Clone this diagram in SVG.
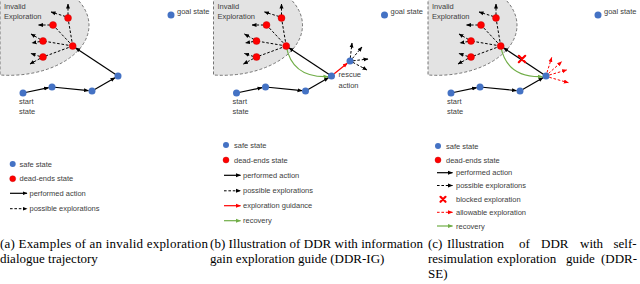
<svg xmlns="http://www.w3.org/2000/svg" width="640" height="284" viewBox="0 0 640 284">
<style>
.safe{fill:#4472C4}
.dead{fill:#FF0000;stroke:#C00000;stroke-width:0.4}
.lbl{font-family:"Liberation Sans",Arial,sans-serif;font-size:7.5px;fill:#404040}
.cap{font-family:"Liberation Serif","Times New Roman",serif;font-size:13px;fill:#000}
.act{stroke:#000;stroke-width:1.2;fill:none}
.exp{stroke:#000;stroke-width:1;stroke-dasharray:2.6 1.8;fill:none}
.rexp{stroke:#FF0000;stroke-width:1;stroke-dasharray:2.6 1.8;fill:none}
.guide{stroke:#FF0000;stroke-width:1.2;fill:none}
.rec{stroke:#70AD47;stroke-width:1.2;fill:none}
.zone{fill:#E3E3E3;stroke:#555;stroke-width:0.8;stroke-dasharray:3 2}
.blk{stroke:#FF0000;stroke-width:2.2;stroke-linecap:round}
</style>
<defs>
<marker id="ak" viewBox="0 0 10 10" refX="9" refY="5" markerWidth="5" markerHeight="5" markerUnits="userSpaceOnUse" orient="auto"><path d="M0,1 L10,5 L0,9 z" fill="#000"/></marker>
<marker id="ar" viewBox="0 0 10 10" refX="9" refY="5" markerWidth="5" markerHeight="5" markerUnits="userSpaceOnUse" orient="auto"><path d="M0,1 L10,5 L0,9 z" fill="#FF0000"/></marker>
<marker id="ag" viewBox="0 0 10 10" refX="9" refY="5" markerWidth="5" markerHeight="5" markerUnits="userSpaceOnUse" orient="auto"><path d="M0,1 L10,5 L0,9 z" fill="#70AD47"/></marker>
</defs>

<!-- ============ Panel A ============ -->
<g id="panel-a">
  <path class="zone" d="M0,-2 L76,-2 A80,50 0 0 1 0,75 Z"/>
  <text class="lbl" x="4" y="8.5" font-size="8">Invalid</text>
  <text class="lbl" x="4" y="18.5" font-size="8">Exploration</text>
  <g id="a-connectors">
    <line class="act" x1="23" y1="93" x2="48.6" y2="87.7" marker-end="url(#ak)"/>
    <line class="act" x1="52" y1="87" x2="88.5" y2="90.6" marker-end="url(#ak)"/>
    <line class="act" x1="92" y1="91" x2="115" y2="77.8" marker-end="url(#ak)"/>
    <line class="act" x1="118" y1="76" x2="75.6" y2="47.9" marker-end="url(#ak)"/>
    <line class="exp" x1="72.7" y1="46" x2="68" y2="18"/>
    <line class="exp" x1="72.7" y1="46" x2="53" y2="25"/>
    <line class="exp" x1="72.7" y1="46" x2="43" y2="41"/>
    <line class="exp" x1="72.7" y1="46" x2="43" y2="57"/>
    <line class="exp" x1="68" y1="15" x2="68" y2="4" marker-end="url(#ak)"/>
    <line class="exp" x1="65.5" y1="16.5" x2="51" y2="12" marker-end="url(#ak)"/>
    <line class="exp" x1="50" y1="25" x2="38.5" y2="25" marker-end="url(#ak)"/>
    <line class="exp" x1="40.5" y1="39.5" x2="31" y2="34" marker-end="url(#ak)"/>
    <line class="exp" x1="40" y1="41.5" x2="32" y2="43" marker-end="url(#ak)"/>
    <line class="exp" x1="40" y1="56.5" x2="31" y2="53.5" marker-end="url(#ak)"/>
    <line class="exp" x1="40" y1="58.5" x2="30" y2="64" marker-end="url(#ak)"/>
  </g>
  <g id="a-dead-hub"><circle class="dead" cx="72.7" cy="46" r="3.5"/></g>
  <g id="a-dead-1"><circle class="dead" cx="68" cy="18" r="3.5"/></g>
  <g id="a-dead-2"><circle class="dead" cx="53" cy="25" r="3.5"/></g>
  <g id="a-dead-3"><circle class="dead" cx="43" cy="41" r="3.5"/></g>
  <g id="a-dead-4"><circle class="dead" cx="43" cy="57" r="3.5"/></g>
  <g id="a-start"><circle class="safe" cx="23" cy="93" r="3.5"/>
    <text class="lbl" x="19" y="104">start</text><text class="lbl" x="19" y="114">state</text></g>
  <g id="a-s2"><circle class="safe" cx="52" cy="87" r="3.5"/></g>
  <g id="a-s3"><circle class="safe" cx="92" cy="91" r="3.5"/></g>
  <g id="a-s4"><circle class="safe" cx="118" cy="76" r="3.5"/></g>
  <g id="a-goal"><circle class="safe" cx="171" cy="15" r="3.5"/><text class="lbl" x="177" y="14">goal state</text></g>

  <g id="a-legend">
    <circle class="safe" cx="12.7" cy="164" r="3"/><text class="lbl" x="19.5" y="166.6">safe state</text>
    <circle class="dead" cx="12.7" cy="178.7" r="3"/><text class="lbl" x="19.5" y="181.3">dead-ends state</text>
    <line class="act" x1="10" y1="193.3" x2="27" y2="193.3" marker-end="url(#ak)"/><text class="lbl" x="29.5" y="195.9">performed action</text>
    <line class="exp" x1="10" y1="208.7" x2="27" y2="208.7" marker-end="url(#ak)"/><text class="lbl" x="29.5" y="211.3">possible explorations</text>
  </g>
</g>

<!-- ============ Panel B ============ -->
<g id="panel-b" transform="translate(213.5,0)">
  <path class="zone" d="M0,-2 L76,-2 A80,50 0 0 1 0,75 Z"/>
  <text class="lbl" x="4" y="8.5" font-size="8">Invalid</text>
  <text class="lbl" x="4" y="18.5" font-size="8">Exploration</text>
  <g id="b-connectors">
    <line class="act" x1="23" y1="93" x2="48.6" y2="87.7" marker-end="url(#ak)"/>
    <line class="act" x1="52" y1="87" x2="88.5" y2="90.6" marker-end="url(#ak)"/>
    <line class="act" x1="92" y1="91" x2="115" y2="77.8" marker-end="url(#ak)"/>
    <line class="act" x1="118" y1="76" x2="75.6" y2="47.9" marker-end="url(#ak)"/>
    <path class="rec" d="M72.7,46 Q78.5,78 114.5,76.6" marker-end="url(#ag)"/>
    <line class="guide" x1="120.7" y1="73.8" x2="133.8" y2="63.2" marker-end="url(#ar)"/>
    <line class="exp" x1="72.7" y1="46" x2="68" y2="18"/>
    <line class="exp" x1="72.7" y1="46" x2="53" y2="25"/>
    <line class="exp" x1="72.7" y1="46" x2="43" y2="41"/>
    <line class="exp" x1="72.7" y1="46" x2="43" y2="57"/>
    <line class="exp" x1="68" y1="15" x2="68" y2="4" marker-end="url(#ak)"/>
    <line class="exp" x1="65.5" y1="16.5" x2="51" y2="12" marker-end="url(#ak)"/>
    <line class="exp" x1="50" y1="25" x2="38.5" y2="25" marker-end="url(#ak)"/>
    <line class="exp" x1="40.5" y1="39.5" x2="31" y2="34" marker-end="url(#ak)"/>
    <line class="exp" x1="40" y1="41.5" x2="32" y2="43" marker-end="url(#ak)"/>
    <line class="exp" x1="40" y1="56.5" x2="31" y2="53.5" marker-end="url(#ak)"/>
    <line class="exp" x1="40" y1="58.5" x2="30" y2="64" marker-end="url(#ak)"/>
    <line class="exp" x1="136.8" y1="58" x2="138.5" y2="43" marker-end="url(#ak)"/>
    <line class="exp" x1="138.8" y1="58.6" x2="148.5" y2="47" marker-end="url(#ak)"/>
    <line class="exp" x1="139.5" y1="60.8" x2="154.5" y2="59" marker-end="url(#ak)"/>
    <line class="exp" x1="139.3" y1="62.3" x2="153.5" y2="70" marker-end="url(#ak)"/>
  </g>
  <g id="b-dead-hub"><circle class="dead" cx="72.7" cy="46" r="3.5"/></g>
  <g id="b-dead-1"><circle class="dead" cx="68" cy="18" r="3.5"/></g>
  <g id="b-dead-2"><circle class="dead" cx="53" cy="25" r="3.5"/></g>
  <g id="b-dead-3"><circle class="dead" cx="43" cy="41" r="3.5"/></g>
  <g id="b-dead-4"><circle class="dead" cx="43" cy="57" r="3.5"/></g>
  <g id="b-start"><circle class="safe" cx="23" cy="93" r="3.5"/>
    <text class="lbl" x="19" y="104">start</text><text class="lbl" x="19" y="114">state</text></g>
  <g id="b-s2"><circle class="safe" cx="52" cy="87" r="3.5"/></g>
  <g id="b-s3"><circle class="safe" cx="92" cy="91" r="3.5"/></g>
  <g id="b-s4"><circle class="safe" cx="118" cy="76" r="3.5"/>
    <text class="lbl" x="125" y="77">rescue</text><text class="lbl" x="125" y="87.5">action</text></g>
  <g id="b-rescue"><circle class="safe" cx="136.5" cy="61" r="3.5"/></g>
  <g id="b-goal"><circle class="safe" cx="171" cy="15" r="3.5"/><text class="lbl" x="177" y="14">goal state</text></g>
</g>
<g id="b-legend">
  <circle class="safe" cx="226" cy="145" r="3"/><text class="lbl" x="234" y="147.6">safe state</text>
  <circle class="dead" cx="226" cy="160" r="3"/><text class="lbl" x="234" y="162.6">dead-ends state</text>
  <line class="act" x1="224" y1="175.3" x2="240.5" y2="175.3" marker-end="url(#ak)"/><text class="lbl" x="243" y="177.9">performed action</text>
  <line class="exp" x1="224" y1="190.8" x2="240.5" y2="190.8" marker-end="url(#ak)"/><text class="lbl" x="243" y="193.4">possible explorations</text>
  <line class="guide" x1="224" y1="205.7" x2="240.5" y2="205.7" marker-end="url(#ar)"/><text class="lbl" x="243" y="208.3">exploration guidance</text>
  <line class="rec" x1="224" y1="220.7" x2="240.5" y2="220.7" marker-end="url(#ag)"/><text class="lbl" x="243" y="223.3">recovery</text>
</g>

<!-- ============ Panel C ============ -->
<g id="panel-c" transform="translate(428,0)">
  <path class="zone" d="M0,-2 L76,-2 A80,50 0 0 1 0,75 Z"/>
  <text class="lbl" x="4" y="8.5" font-size="8">Invalid</text>
  <text class="lbl" x="4" y="18.5" font-size="8">Exploration</text>
  <g id="c-connectors">
    <line class="act" x1="23" y1="93" x2="48.6" y2="87.7" marker-end="url(#ak)"/>
    <line class="act" x1="52" y1="87" x2="88.5" y2="90.6" marker-end="url(#ak)"/>
    <line class="act" x1="92" y1="91" x2="115" y2="77.8" marker-end="url(#ak)"/>
    <line class="act" x1="118" y1="76" x2="75.6" y2="47.9" marker-end="url(#ak)"/>
    <path class="rec" d="M72.7,46 Q78.5,78 114.5,76.6" marker-end="url(#ag)"/>
    <line class="exp" x1="72.7" y1="46" x2="68" y2="18"/>
    <line class="exp" x1="72.7" y1="46" x2="53" y2="25"/>
    <line class="exp" x1="72.7" y1="46" x2="43" y2="41"/>
    <line class="exp" x1="72.7" y1="46" x2="43" y2="57"/>
    <line class="exp" x1="68" y1="15" x2="68" y2="4" marker-end="url(#ak)"/>
    <line class="exp" x1="65.5" y1="16.5" x2="51" y2="12" marker-end="url(#ak)"/>
    <line class="exp" x1="50" y1="25" x2="38.5" y2="25" marker-end="url(#ak)"/>
    <line class="exp" x1="40.5" y1="39.5" x2="31" y2="34" marker-end="url(#ak)"/>
    <line class="exp" x1="40" y1="41.5" x2="32" y2="43" marker-end="url(#ak)"/>
    <line class="exp" x1="40" y1="56.5" x2="31" y2="53.5" marker-end="url(#ak)"/>
    <line class="exp" x1="40" y1="58.5" x2="30" y2="64" marker-end="url(#ak)"/>
    <line class="rexp" x1="119" y1="72.5" x2="123.7" y2="57.5" marker-end="url(#ar)"/>
    <line class="rexp" x1="120.5" y1="73.5" x2="133.7" y2="61.7" marker-end="url(#ar)"/>
    <line class="rexp" x1="121.3" y1="75" x2="138.7" y2="70" marker-end="url(#ar)"/>
    <line class="rexp" x1="121.3" y1="77.3" x2="140.3" y2="82.7" marker-end="url(#ar)"/>
  </g>
  <g id="c-blocked"><path class="blk" d="M90.8,55.8 L97.2,62.2 M97.2,55.8 L90.8,62.2"/></g>
  <g id="c-dead-hub"><circle class="dead" cx="72.7" cy="46" r="3.5"/></g>
  <g id="c-dead-1"><circle class="dead" cx="68" cy="18" r="3.5"/></g>
  <g id="c-dead-2"><circle class="dead" cx="53" cy="25" r="3.5"/></g>
  <g id="c-dead-3"><circle class="dead" cx="43" cy="41" r="3.5"/></g>
  <g id="c-dead-4"><circle class="dead" cx="43" cy="57" r="3.5"/></g>
  <g id="c-start"><circle class="safe" cx="23" cy="93" r="3.5"/>
    <text class="lbl" x="19" y="104">start</text><text class="lbl" x="19" y="114">state</text></g>
  <g id="c-s2"><circle class="safe" cx="52" cy="87" r="3.5"/></g>
  <g id="c-s3"><circle class="safe" cx="92" cy="91" r="3.5"/></g>
  <g id="c-s4"><circle class="safe" cx="118" cy="76" r="3.5"/></g>
  <g id="c-goal"><circle class="safe" cx="170" cy="15" r="3.5"/><text class="lbl" x="176" y="14">goal state</text></g>
</g>
<g id="c-legend">
  <circle class="safe" cx="438" cy="146" r="3"/><text class="lbl" x="446" y="148.6">safe state</text>
  <circle class="dead" cx="438" cy="160" r="3"/><text class="lbl" x="446" y="162.6">dead-ends state</text>
  <line class="act" x1="437" y1="172.7" x2="452.5" y2="172.7" marker-end="url(#ak)"/><text class="lbl" x="456" y="175.3">performed action</text>
  <line class="exp" x1="437" y1="185.5" x2="452.5" y2="185.5" marker-end="url(#ak)"/><text class="lbl" x="456" y="188.1">possible explorations</text>
  <path class="blk" d="M440.5,196.8 L445.5,201.8 M445.5,196.8 L440.5,201.8"/><text class="lbl" x="456" y="201.9">blocked exploration</text>
  <line class="rexp" x1="437" y1="212.3" x2="452.5" y2="212.3" marker-end="url(#ar)"/><text class="lbl" x="456" y="214.9">allowable exploration</text>
  <line class="rec" x1="437" y1="226" x2="452.5" y2="226" marker-end="url(#ag)"/><text class="lbl" x="456" y="228.6">recovery</text>
</g>

<!-- ============ Captions ============ -->
<g id="captions">
  <text class="cap" x="0" y="248" textLength="208" lengthAdjust="spacing">(a) Examples of an invalid exploration</text>
  <text class="cap" x="0" y="263">dialogue trajectory</text>
  <text class="cap" x="210" y="248" textLength="213" lengthAdjust="spacing">(b) Illustration of DDR with information</text>
  <text class="cap" x="210" y="263">gain exploration guide (DDR-IG)</text>
  <text class="cap" y="248"><tspan x="428">(c)</tspan><tspan x="447">Illustration</tspan><tspan x="519">of</tspan><tspan x="541">DDR</tspan><tspan x="580">with</tspan><tspan x="613.5">self-</tspan></text>
  <text class="cap" y="263"><tspan x="428">resimulation</tspan><tspan x="497">exploration</tspan><tspan x="566">guide</tspan><tspan x="601">(DDR-</tspan></text>
  <text class="cap" x="428" y="278">SE)</text>
</g>
</svg>
